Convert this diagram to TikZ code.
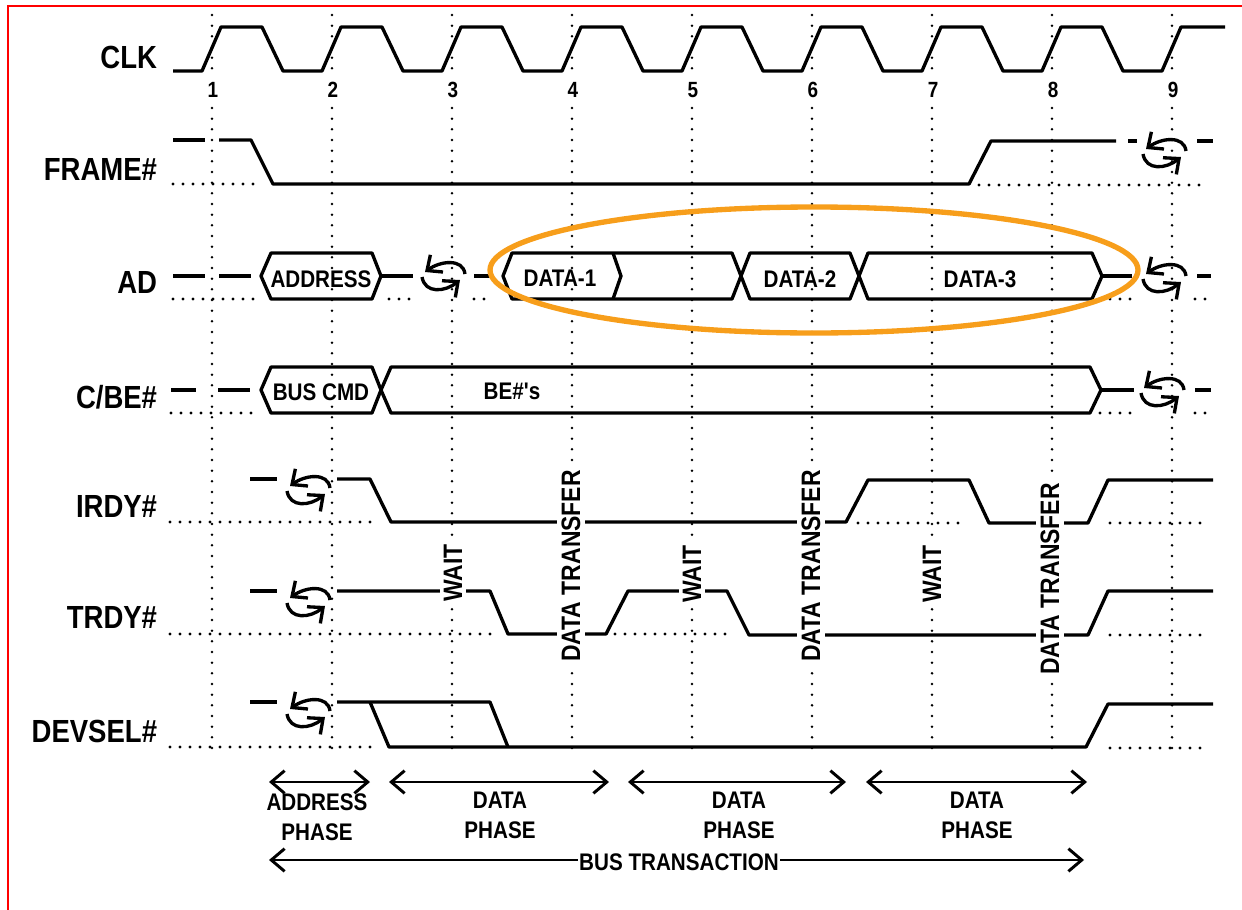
\documentclass[tikz,border=0pt]{standalone}
\usepackage{fontspec}
\newfontfamily\diagfont{Liberation Sans}[FakeStretch=0.86]
\usetikzlibrary{arrows.meta}
\definecolor{ringorange}{RGB}{247,158,27}

\tikzset{every picture/.style={line width=0.75pt}}
\tikzset{
  sig/.style={line width=2.5pt, line join=round},
  lowdots/.style={line width=2.4pt, line cap=round, dash pattern=on 0pt off 7.5pt},
  griddots/.style={line width=2.1pt, line cap=round, dash pattern=on 0pt off 8pt},
  turnarrow/.style={line width=2.5pt, -{Straight Barb[length=9pt,width=16pt]}},
  turnaround/.pic={
    \draw[turnarrow] (-21,-1) .. controls (-18,-18) and (2,-16) .. (17,-4);
    \draw[turnarrow] (22,2) .. controls (20,18) and (-3,15) .. (-18,4);
  },
  signame/.style={anchor=base east, font=\diagfont\bfseries\fontsize{24}{28}\selectfont},
  ticknum/.style={anchor=base, font=\diagfont\bfseries\fontsize{16.5}{19}\selectfont},
  buslabel/.style={anchor=base, fill=white, inner sep=0.5pt, font=\diagfont\bfseries\fontsize{18}{21}\selectfont},
  phaselabel/.style={align=center, font=\diagfont\bfseries\fontsize{18}{22.5}\selectfont},
  eventlabel/.style={rotate=90, fill=white, inner sep=3.2pt, font=\diagfont\bfseries\fontsize{20}{24}\selectfont},
  phasearrow/.style={line width=2.2pt, {Straight Barb[length=10pt,width=17pt]}-{Straight Barb[length=10pt,width=17pt]}},
  ringline/.style={draw=ringorange, line width=4pt}
}

\begin{document}
\begin{tikzpicture}[x=0.75pt,y=0.75pt,yscale=-1,xscale=1]
\useasboundingbox (0,0) rectangle (1242,910);

% Frame
\draw[red, line width=1.5pt] (8,910) -- (8,6) -- (1242,6);

% Grid
\draw[griddots] (212,15) -- (212,71) (212,108) -- (212,752);
\draw[griddots] (332,15) -- (332,71) (332,108) -- (332,752);
\draw[griddots] (452,15) -- (452,71) (452,108) -- (452,752);
\draw[griddots] (572,15) -- (572,71) (572,108) -- (572,752);
\draw[griddots] (692,15) -- (692,71) (692,108) -- (692,752);
\draw[griddots] (812,15) -- (812,71) (812,108) -- (812,752);
\draw[griddots] (932,15) -- (932,71) (932,108) -- (932,752);
\draw[griddots] (1052,15) -- (1052,71) (1052,108) -- (1052,752);
\draw[griddots] (1172,15) -- (1172,71) (1172,108) -- (1172,752);

% Text Node
\node[signame] (clk) at (162,68) {CLK};
\node[signame] (frame) at (162,180) {FRAME\#};
\node[signame] (ad) at (162,293) {AD};
\node[signame] (cbe) at (162,408) {C/BE\#};
\node[signame] (irdy) at (162,517) {IRDY\#};
\node[signame] (trdy) at (162,628) {TRDY\#};
\node[signame] (devsel) at (162,742) {DEVSEL\#};

% Text Node
\node[ticknum] (t1) at (213,97) {1};
\node[ticknum] (t2) at (333,97) {2};
\node[ticknum] (t3) at (453,97) {3};
\node[ticknum] (t4) at (573,97) {4};
\node[ticknum] (t5) at (693,97) {5};
\node[ticknum] (t6) at (813,97) {6};
\node[ticknum] (t7) at (933,97) {7};
\node[ticknum] (t8) at (1053,97) {8};
\node[ticknum] (t9) at (1173,97) {9};

% CLK
\draw[sig] (173,71) -- (202,71) -- (221,27) -- (262,27) -- (283,71) -- (322,71) -- (341,27) -- (382,27) -- (403,71) -- (442,71) -- (461,27) -- (502,27) -- (523,71) -- (562,71) -- (581,27) -- (622,27) -- (643,71) -- (682,71) -- (701,27) -- (742,27) -- (763,71) -- (802,71) -- (821,27) -- (862,27) -- (883,71) -- (922,71) -- (941,27) -- (982,27) -- (1003,71) -- (1042,71) -- (1061,27) -- (1102,27) -- (1123,71) -- (1162,71) -- (1181,27) -- (1225,27);

% FRAME#
\draw[sig] (173,140) -- (205,140);
\draw[sig] (219,140) -- (251,140) -- (273,184) -- (969,184) -- (991,141) -- (1116,141);
\draw[sig] (1128,141) -- (1137,141);
\draw[sig] (1197,141) -- (1213,141);
\draw[lowdots] (173,184) -- (255,184);
\draw[lowdots] (979,185) -- (1207,185);
\pic at (1164,153) {turnaround};

% AD
\draw[sig] (173,276) -- (205,276);
\draw[sig] (219,276) -- (251,276);
\draw[lowdots] (173,299) -- (255,299);
\draw[sig] (261,276) -- (271,253) -- (372,253) -- (381,276) -- (372,299) -- (271,299) -- cycle;
\draw[sig] (381,276) -- (413,276);
\draw[lowdots] (389,299) -- (413,299);
\pic at (443,276) {turnaround};
\draw[sig] (474,276) -- (490,276);
\draw[lowdots] (474,299) -- (494,299);
\draw[sig] (732,253) -- (512,253) -- (503,276) -- (512,299) -- (732,299) -- (750,253) -- (850,253) -- (868,299) -- (1092,299) -- (1102,276) -- (1092,253) -- (868,253) -- (850,299) -- (750,299) -- cycle;
\draw[sig] (613,253) -- (621,276) -- (613,299);
\draw[sig] (1102,276) -- (1132,276);
\draw[lowdots] (1110,299) -- (1135,299);
\pic at (1164,278) {turnaround};
\draw[sig] (1197,276) -- (1211,276);
\draw[lowdots] (1195,299) -- (1207,299);
\node[buslabel] (addr) at (321,287) {ADDRESS};
\node[buslabel] (data1) at (560,286) {DATA-1};
\node[buslabel] (data2) at (800,287) {DATA-2};
\node[buslabel] (data3) at (980,287) {DATA-3};

% C/BE#
\draw[sig] (171,390) -- (196,390);
\draw[sig] (218,390) -- (250,390);
\draw[lowdots] (171,413) -- (253,413);
\draw[sig] (381,390) -- (372,367) -- (271,367) -- (261,390) -- (271,413) -- (372,413) -- (381,390) -- (391,367) -- (1090,367) -- (1101,390) -- (1090,413) -- (391,413) -- cycle;
\draw[sig] (1101,390) -- (1134,390);
\draw[lowdots] (1100,413) -- (1134,413);
\pic at (1162,392) {turnaround};
\draw[sig] (1195,390) -- (1211,390);
\draw[lowdots] (1195,413) -- (1207,413);
\node[buslabel] (buscmd) at (321,400) {BUS CMD};
\node[buslabel] (bes) at (512,399) {BE\#'s};

% IRDY#
\draw[sig] (250,479) -- (277,479);
\pic at (308,490) {turnaround};
\draw[sig] (337,479) -- (370,479) -- (391,522) -- (846,522) -- (868,480) -- (969,480) -- (989,523) -- (1088,523) -- (1108,480) -- (1213,480);
\draw[lowdots] (170,522) -- (374,522);
\draw[lowdots] (858,523) -- (965,523);
\draw[lowdots] (1110,523) -- (1207,523);

% TRDY#
\draw[sig] (250,591) -- (277,591);
\pic at (308,602) {turnaround};
\draw[sig] (337,591) -- (490,591) -- (508,634) -- (606,634) -- (628,591) -- (727,591) -- (749,635) -- (1088,635) -- (1108,591) -- (1213,591);
\draw[lowdots] (170,634) -- (495,634);
\draw[lowdots] (615,634) -- (731,634);
\draw[lowdots] (1110,635) -- (1207,635);

% DEVSEL#
\draw[sig] (250,702) -- (277,702);
\pic at (308,713) {turnaround};
\draw[sig] (337,702) -- (490,702) -- (508,747);
\draw[sig] (370,702) -- (389,747) -- (1086,747) -- (1108,704) -- (1213,704);
\draw[lowdots] (170,747) -- (374,747);
\draw[lowdots] (1110,748) -- (1207,748);

% Text Node
\node[eventlabel] (wait3) at (453,573) {WAIT};
\node[eventlabel] (wait5) at (692,574) {WAIT};
\node[eventlabel] (wait7) at (932,574) {WAIT};
\node[eventlabel] (xfer4) at (571,566) {DATA TRANSFER};
\node[eventlabel] (xfer6) at (811,566) {DATA TRANSFER};
\node[eventlabel] (xfer8) at (1050,579) {DATA TRANSFER};

% Phases
\coordinate (ap-l) at (269,782);
\coordinate (ap-r) at (370,782);
\coordinate (dp1-l) at (389,782);
\coordinate (dp1-r) at (609,782);
\coordinate (dp2-l) at (628,782);
\coordinate (dp2-r) at (846,782);
\coordinate (dp3-l) at (866,782);
\coordinate (dp3-r) at (1087,782);
\coordinate (bt-l) at (269,860);
\coordinate (bt-r) at (1084,860);
% Connection
\draw[phasearrow] (ap-l) -- (ap-r);
% Connection
\draw[phasearrow] (dp1-l) -- (dp1-r);
% Connection
\draw[phasearrow] (dp2-l) -- (dp2-r);
% Connection
\draw[phasearrow] (dp3-l) -- (dp3-r);
% Connection
\draw[phasearrow] (bt-l) -- (bt-r);
\node[phaselabel] (addrphase) at (317,817) {ADDRESS\\PHASE};
\node[phaselabel] (dataphase1) at (500,815) {DATA\\PHASE};
\node[phaselabel] (dataphase2) at (739,815) {DATA\\PHASE};
\node[phaselabel] (dataphase3) at (977,815) {DATA\\PHASE};
\node[phaselabel, fill=white, inner sep=1pt] (bustrans) at (679,862) {BUS TRANSACTION};

% Highlight
\draw[ringline] (814,270) ellipse [x radius=324, y radius=63];

\end{tikzpicture}
\end{document}
